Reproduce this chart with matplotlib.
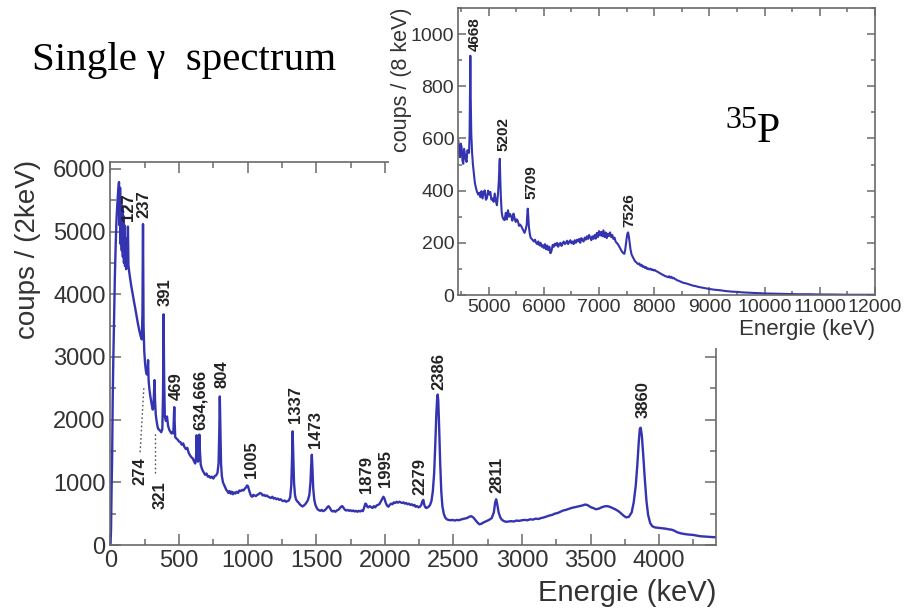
import matplotlib
matplotlib.use("Agg")
import matplotlib.pyplot as plt
from matplotlib.patches import Rectangle
from matplotlib.ticker import MultipleLocator

# ---------------- data: main single-gamma spectrum (keV, counts / 2 keV) ----------------
main_energy = [
    0, 4, 8, 12, 16, 20, 26, 32, 38, 44, 50, 56, 62, 66, 70, 74, 78, 82, 86, 90, 94, 98,
    102, 106, 110, 114, 118, 122, 127, 131, 140, 150, 160, 170, 180, 190, 200, 210, 220,
    228, 233, 237, 241, 246, 252, 258, 264, 270, 274, 278, 284, 290, 296, 302, 308, 313,
    318, 321, 325, 330, 336, 342, 348, 355, 362, 370, 378, 383, 387, 391, 396, 404, 412,
    420, 428, 436, 444, 452, 458, 462, 465, 468, 472, 480, 490, 500, 510, 520, 530, 540,
    550, 560, 570, 580, 590, 600, 610, 618, 624, 628, 632, 638, 644, 648, 652, 658, 666,
    674, 682, 690, 700, 710, 720, 730, 740, 750, 760, 770, 780, 788, 793, 797, 801, 806,
    812, 820, 828, 836, 844, 852, 860, 868, 876, 884, 892, 900, 910, 920, 930, 940, 950,
    960, 970, 980, 988, 996, 1002, 1010, 1018, 1026, 1034, 1042, 1050, 1060, 1070, 1080,
    1090, 1100, 1110, 1120, 1130, 1140, 1150, 1160, 1170, 1180, 1190, 1200, 1210, 1220,
    1230, 1240, 1250, 1260, 1270, 1280, 1290, 1300, 1310, 1318, 1324, 1328, 1332, 1338,
    1345, 1352, 1360, 1370, 1380, 1390, 1400, 1410, 1420, 1430, 1440, 1450, 1458, 1464,
    1468, 1472, 1478, 1486, 1494, 1502, 1510, 1520, 1530, 1540, 1550, 1560, 1570, 1580,
    1590, 1600, 1610, 1620, 1630, 1640, 1650, 1660, 1670, 1680, 1690, 1700, 1710, 1720,
    1730, 1740, 1750, 1760, 1770, 1780, 1790, 1800, 1810, 1820, 1830, 1840, 1850, 1858,
    1865, 1872, 1880, 1890, 1900, 1910, 1920, 1930, 1940, 1950, 1960, 1970, 1980, 1990,
    1998, 2006, 2016, 2026, 2036, 2046, 2056, 2066, 2076, 2086, 2096, 2106, 2116, 2126,
    2136, 2146, 2156, 2166, 2176, 2186, 2196, 2206, 2216, 2226, 2236, 2246, 2256, 2266,
    2274, 2281, 2288, 2296, 2304, 2312, 2320, 2330, 2340, 2350, 2360, 2368, 2376, 2382,
    2386, 2390, 2396, 2404, 2412, 2420, 2430, 2440, 2452, 2465, 2480, 2495, 2510, 2525,
    2540, 2560, 2580, 2600, 2615, 2630, 2645, 2660, 2675, 2690, 2705, 2720, 2740, 2760,
    2780, 2795, 2805, 2812, 2820, 2830, 2842, 2855, 2870, 2885, 2900, 2920, 2940, 2960,
    2980, 3000, 3020, 3040, 3060, 3080, 3100, 3120, 3140, 3160, 3180, 3200, 3220, 3240,
    3260, 3280, 3300, 3320, 3340, 3360, 3380, 3400, 3420, 3440, 3460, 3475, 3490, 3505,
    3520, 3540, 3560, 3580, 3600, 3620, 3640, 3660, 3680, 3700, 3720, 3740, 3760, 3780,
    3800, 3815, 3830, 3842, 3852, 3860, 3866, 3874, 3884, 3896, 3908, 3920, 3935, 3950,
    3970, 3990, 4010, 4030, 4050, 4070, 4090, 4110, 4130, 4160, 4200, 4250, 4300, 4350,
    4390, 4415,
]
main_counts = [
    0, 250, 900, 1400, 2300, 2900, 3600, 4300, 4800, 5200, 5450, 5650, 5790, 5100, 5700,
    4800, 5550, 4700, 5400, 4600, 5250, 4500, 5100, 4450, 4900, 4400, 4700, 4500, 5080,
    4450, 4300, 4150, 4020, 3900, 3780, 3650, 3530, 3420, 3330, 3280, 3700, 5120, 3500,
    3100, 2900, 2780, 2720, 2750, 2950, 2620, 2480, 2380, 2300, 2220, 2160, 2200, 2450,
    2630, 2300, 2080, 1980, 1900, 1850, 1840, 1820, 1800, 1850, 2400, 3680, 2700, 2050,
    1980, 2050, 1900, 1840, 1810, 1780, 1800, 1780, 2000, 2200, 1950, 1720, 1700, 1680,
    1650, 1640, 1600, 1620, 1560, 1530, 1550, 1470, 1430, 1400, 1380, 1330, 1300, 1400,
    1750, 1500, 1330, 1450, 1760, 1500, 1280, 1220, 1180, 1150, 1120, 1140, 1090, 1100,
    1070, 1090, 1060, 1100, 1110, 1150, 1300, 1800, 2370, 1900, 1300, 1100, 1000, 960,
    920, 880, 860, 830, 860, 820, 850, 810, 840, 820, 850, 830, 870, 860, 880, 870, 900,
    920, 950, 940, 880, 820, 780, 770, 800, 790, 780, 800, 810, 830, 820, 790, 800, 780,
    790, 770, 760, 750, 770, 740, 750, 730, 740, 720, 730, 710, 700, 710, 690, 700, 710,
    760, 950, 1400, 1813, 1500, 1000, 800, 730, 700, 680, 650, 630, 615, 630, 650, 680,
    720, 800, 1000, 1300, 1440, 1250, 900, 720, 640, 600, 570, 555, 545, 560, 540, 550,
    570, 600, 620, 590, 550, 535, 545, 530, 550, 560, 580, 610, 620, 590, 560, 550, 560,
    545, 555, 540, 550, 535, 545, 530, 545, 535, 550, 540, 600, 660, 650, 610, 600, 620,
    605, 590, 620, 600, 630, 640, 650, 690, 730, 770, 740, 680, 630, 610, 640, 660, 650,
    680, 670, 690, 675, 690, 680, 670, 680, 660, 670, 650, 660, 640, 650, 630, 640, 610,
    620, 600, 610, 640, 700, 720, 640, 600, 590, 600, 610, 640, 700, 850, 1150, 1600,
    2100, 2350, 2400, 2300, 1900, 1300, 850, 620, 500, 440, 410, 400, 395, 400, 390, 400,
    395, 410, 420, 430, 450, 460, 440, 400, 360, 330, 340, 360, 380, 400, 430, 520, 680,
    730, 650, 520, 440, 400, 380, 370, 375, 380, 375, 390, 385, 395, 400, 395, 410, 405,
    420, 415, 430, 440, 455, 470, 480, 500, 510, 530, 550, 560, 575, 590, 600, 610, 620,
    630, 645, 640, 620, 600, 590, 570, 580, 600, 615, 620, 610, 590, 570, 545, 510, 470,
    440, 450, 520, 680, 950, 1300, 1650, 1860, 1870, 1750, 1450, 1050, 700, 480, 350,
    300, 280, 275, 270, 265, 260, 250, 245, 230, 205, 185, 170, 160, 140, 132, 126, 124,
]

# peak labels of the main spectrum (label text, anchor energy, anchor counts)
main_peak_labels = ["127", "237", "391", "469", "634,666", "804", "1005", "1337", "1473",
                    "1879", "1995", "2279", "2386", "2811", "3860"]
main_label_energy = [129, 241, 399, 478, 654, 812, 1031, 1346, 1492,
                     1869, 2007, 2257, 2391, 2816, 3880]
main_label_counts = [5170, 5210, 3810, 2320, 1840, 2507, 1067, 1947, 1547,
                     832, 933, 800, 2480, 837, 2027]
# labels placed below the curve with dotted leaders
low_labels = ["274", "321"]
low_label_energy = [216, 362]
low_label_counts = [1400, 1013]
leader_energy = [[216, 243], [326, 326]]
leader_counts = [[1480, 2500], [1150, 1780]]

# ---------------- data: inset, high-energy part (keV, counts / 8 keV) ----------------
inset_energy = [
    4450, 4465, 4480, 4495, 4510, 4525, 4540, 4555, 4570, 4585, 4600, 4615, 4630, 4645,
    4655, 4662, 4668, 4675, 4685, 4700, 4715, 4730, 4750, 4770, 4790, 4810, 4830, 4850,
    4870, 4890, 4910, 4930, 4950, 4970, 4990, 5010, 5030, 5050, 5070, 5090, 5110, 5130,
    5150, 5170, 5185, 5195, 5202, 5210, 5220, 5235, 5250, 5270, 5290, 5310, 5330, 5350,
    5370, 5390, 5410, 5430, 5450, 5470, 5490, 5510, 5530, 5550, 5570, 5590, 5610, 5630,
    5650, 5670, 5690, 5700, 5709, 5718, 5730, 5745, 5760, 5780, 5800, 5820, 5840, 5860,
    5880, 5900, 5920, 5940, 5960, 5980, 6000, 6020, 6040, 6060, 6080, 6100, 6120, 6140,
    6160, 6180, 6200, 6220, 6240, 6260, 6280, 6300, 6320, 6340, 6360, 6380, 6400, 6420,
    6440, 6460, 6480, 6500, 6520, 6540, 6560, 6580, 6600, 6620, 6640, 6660, 6680, 6700,
    6720, 6740, 6760, 6780, 6800, 6820, 6840, 6860, 6880, 6900, 6920, 6940, 6960, 6980,
    7000, 7020, 7040, 7060, 7080, 7100, 7120, 7140, 7160, 7180, 7200, 7220, 7240, 7260,
    7280, 7300, 7320, 7340, 7360, 7380, 7400, 7420, 7440, 7460, 7475, 7490, 7505, 7515,
    7526, 7540, 7555, 7570, 7590, 7610, 7630, 7650, 7670, 7690, 7710, 7730, 7750, 7770,
    7790, 7810, 7830, 7850, 7870, 7890, 7910, 7930, 7950, 7970, 7990, 8010, 8030, 8050,
    8070, 8090, 8110, 8130, 8150, 8170, 8190, 8210, 8230, 8250, 8270, 8290, 8310, 8330,
    8350, 8370, 8390, 8420, 8450, 8480, 8510, 8540, 8570, 8600, 8650, 8700, 8750, 8800,
    8850, 8900, 8950, 9000, 9100, 9200, 9300, 9400, 9500, 9600, 9700, 9800, 9900, 10000,
    10200, 10400, 10600, 10800, 11000, 11200, 11500, 11800, 12000,
]
inset_counts = [
    592, 540, 528, 580, 566, 515, 503, 560, 541, 520, 510, 555, 548, 545, 620, 780, 917,
    760, 620, 545, 500, 470, 430, 410, 395, 385, 392, 375, 398, 370, 395, 401, 365, 372,
    400, 385, 395, 365, 370, 357, 389, 360, 344, 390, 440, 500, 522, 450, 380, 320, 300,
    290, 287, 315, 290, 325, 300, 310, 300, 285, 312, 295, 280, 290, 283, 265, 270, 264,
    255, 245, 238, 250, 270, 310, 331, 300, 260, 235, 220, 215, 210, 205, 212, 200, 195,
    205, 190, 200, 185, 191, 180, 195, 175, 190, 172, 185, 160, 170, 192, 185, 197, 190,
    200, 185, 195, 200, 188, 198, 205, 195, 200, 208, 195, 204, 210, 198, 205, 195, 210,
    200, 212, 205, 215, 200, 218, 210, 205, 220, 212, 225, 215, 230, 220, 210, 225, 215,
    230, 216, 238, 222, 245, 228, 242, 225, 248, 222, 240, 218, 235, 226, 240, 222, 230,
    215, 220, 205, 200, 195, 188, 180, 172, 165, 160, 158, 175, 200, 225, 236, 240, 225,
    200, 175, 155, 146, 138, 130, 126, 122, 118, 121, 112, 116, 108, 110, 104, 107, 100,
    102, 98, 101, 96, 98, 94, 96, 92, 90, 88, 85, 83, 80, 78, 76, 73, 72, 70, 68, 72, 66,
    70, 64, 66, 62, 60, 56, 54, 51, 48, 46, 45, 43, 40, 36, 34, 31, 29, 27, 25, 23, 20,
    18, 15, 13, 12, 10, 9, 8, 7, 6, 5, 4, 3, 3, 2, 2, 1, 1, 1,
]
inset_peak_labels = ["4668", "5202", "5709", "7526"]
inset_label_energy = [4750, 5261, 5773, 7544]
inset_label_counts = [935, 553, 369, 261]

# ---------------- styling ----------------
SANS = ["Liberation Sans", "DejaVu Sans"]
SERIF = ["Liberation Serif", "DejaVu Serif"]
LINE = "#3434b0"
FRAME = "#6a6a6a"
TXT = "#333333"

plt.rcParams["font.family"] = SANS

fig = plt.figure(figsize=(9.2, 6.1), dpi=100)
fig.patch.set_facecolor("white")


def style_axes(ax, labelsize, major_len, minor_len, pad):
    for sp in ax.spines.values():
        sp.set_color(FRAME)
        sp.set_linewidth(1.2)
    ax.tick_params(which="both", direction="in", top=True, right=True,
                   color=FRAME, width=1.1, labelcolor=TXT, labelsize=labelsize, pad=pad)
    ax.tick_params(which="major", length=major_len)
    ax.tick_params(which="minor", length=minor_len)


# ---- main axes ----
ax = fig.add_axes([110.5 / 920, 1 - 545 / 610, (716 - 110.5) / 920, (545 - 162) / 610])
ax.set_zorder(0)
ax.plot(main_energy, main_counts, color=LINE, lw=1.7, solid_joinstyle="round")
ax.set_xlim(0, 4415)
ax.set_ylim(0, 6110)
ax.xaxis.set_major_locator(MultipleLocator(500))
ax.xaxis.set_minor_locator(MultipleLocator(250))
ax.yaxis.set_major_locator(MultipleLocator(1000))
ax.yaxis.set_minor_locator(MultipleLocator(500))
style_axes(ax, 17, 8, 4, 3.5)

for lab, e, c in zip(main_peak_labels, main_label_energy, main_label_counts):
    ax.text(e, c, lab, rotation=90, ha="center", va="bottom", fontsize=12,
            fontweight="bold", color="#222222")
for lab, e, c in zip(low_labels, low_label_energy, low_label_counts):
    ax.text(e, c, lab, rotation=90, ha="center", va="top", fontsize=12,
            fontweight="bold", color="#222222")
for xs, ys in zip(leader_energy, leader_counts):
    ax.plot(xs, ys, color="#555555", lw=1.0, ls=(0, (1.2, 1.8)))

ax.set_xlabel("Energie (keV)", fontsize=21, color=TXT, loc="right")
ax.xaxis.set_label_coords(1.0, -0.09)
ax.set_ylabel("coups / (2keV)", fontsize=20, color=TXT, loc="top")
ax.yaxis.set_label_coords(-0.115, 1.005)

# white block the inset figure was pasted on
fig.patches.append(Rectangle((389 / 920, 1 - 348 / 610), 1 - 389 / 920, 348 / 610,
                             transform=fig.transFigure, facecolor="white",
                             edgecolor="none", zorder=1))

# ---- inset axes ----
ins = fig.add_axes([458.3 / 920, 1 - 295 / 610, (875 - 458.3) / 920, (295 - 8) / 610])
ins.set_zorder(2)
ins.plot(inset_energy, inset_counts, color=LINE, lw=1.5, solid_joinstyle="round")
ins.set_xlim(4450, 12000)
ins.set_ylim(0, 1100)
ins.xaxis.set_major_locator(MultipleLocator(1000))
ins.xaxis.set_minor_locator(MultipleLocator(500))
ins.yaxis.set_major_locator(MultipleLocator(200))
ins.yaxis.set_minor_locator(MultipleLocator(100))
style_axes(ins, 14, 6, 3, 3)
for lab, e, c in zip(inset_peak_labels, inset_label_energy, inset_label_counts):
    ins.text(e, c, lab, rotation=90, ha="center", va="bottom", fontsize=11,
             fontweight="bold", color="#222222")
ins.set_xlabel("Energie (keV)", fontsize=16, color=TXT, loc="right")
ins.xaxis.set_label_coords(1.0, -0.085)
ins.set_ylabel("coups / (8 keV)", fontsize=15.5, color=TXT, loc="top")
ins.yaxis.set_label_coords(-0.11, 1.0)

# ---- slide texts ----
fig.text(31.7 / 920, 1 - 70 / 610, "Single γ  spectrum", family=SERIF, fontsize=29.5,
         ha="left", va="baseline", color="black", zorder=5)
fig.text(725 / 920, 1 - 128 / 610, "35", family=SERIF, fontsize=23,
         ha="left", va="baseline", color="black", zorder=5)
fig.text(757 / 920, 1 - 141.7 / 610, "P", family=SERIF, fontsize=30,
         ha="left", va="baseline", color="black", zorder=5)

fig.savefig("out.png", dpi=100, facecolor="white")
